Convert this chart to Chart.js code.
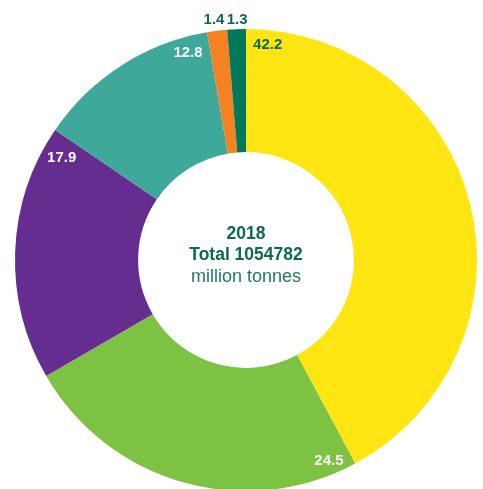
<!DOCTYPE html>
<html>
<head>
<meta charset="utf-8">
<script src="https://cdn.jsdelivr.net/npm/chart.js@4"></script>
<style>
  html, body { margin: 0; padding: 0; background: #fff; overflow: hidden; }
  canvas { display: block; }
</style>
</head>
<body>
<canvas id="donut" width="483" height="492"></canvas>
<script>
// share of each segment, percent, clockwise from 12 o'clock
const segments = ['A', 'B', 'C', 'D', 'E', 'F']
const shares = [42.2, 24.5, 17.9, 12.8, 1.4, 1.3]
const colours = ['#ffe512', '#7dc242', '#652d90', '#3ea89b', '#f58220', '#00785c']

const centreYear = '2018'
const centreTotal = 'Total 1054782'
const centreUnit = 'million tonnes'

// where each value label sits: fraction along the arc, offset from outer edge, colour
const labelStyle = [
  { along: 0.038, dr: -15, color: '#0b6a4d' },
  { along: 0.066, dr: -13.5, color: '#fff' },
  { along: 0.92, dr: -20, color: '#fff' },
  { along: 0.871, dr: -16, color: '#fff' },
  { along: 0.42, dr: 11, color: '#0b6a4d' },
  { along: 0.55, dr: 9, color: '#0b6a4d' }
]

const valueLabels = {
  id: 'valueLabels',
  afterDatasetsDraw(chart) {
    const ctx = chart.ctx
    const arcs = chart.getDatasetMeta(0).data
    ctx.save()
    ctx.font = 'bold 15px "Liberation Sans", Arial, sans-serif'
    ctx.textAlign = 'center'
    ctx.textBaseline = 'middle'
    arcs.forEach(function(arc, i) {
      const s = labelStyle[i]
      const a = arc.startAngle + (arc.endAngle - arc.startAngle) * s.along
      const r = arc.outerRadius + s.dr
      ctx.fillStyle = s.color
      ctx.fillText(shares[i].toFixed(1), arc.x + Math.cos(a) * r, arc.y + Math.sin(a) * r)
    })
    ctx.restore()
  }
}

const centreText = {
  id: 'centreText',
  afterDraw(chart) {
    const ctx = chart.ctx
    const arc = chart.getDatasetMeta(0).data[0]
    const x = arc.x, y = arc.y
    ctx.save()
    ctx.textAlign = 'center'
    ctx.textBaseline = 'middle'
    ctx.fillStyle = '#0b6a4d'
    ctx.font = 'bold 17.5px "Liberation Sans", Arial, sans-serif'
    ctx.fillText(centreYear, x, y - 26)
    ctx.fillText(centreTotal, x, y - 5)
    ctx.fillStyle = '#207a5e'
    ctx.font = '18px "Liberation Sans", Arial, sans-serif'
    ctx.fillText(centreUnit, x, y + 17)
    ctx.restore()
  }
}

new Chart(document.getElementById('donut'), {
  type: 'doughnut',
  data: {
    labels: segments,
    datasets: [{
      data: shares,
      backgroundColor: colours,
      borderWidth: 0
    }]
  },
  options: {
    responsive: false,
    animation: false,
    cutout: '46.7%',
    layout: { padding: { top: 29, bottom: 1, left: 15, right: 6 } },
    plugins: {
      legend: { display: false },
      tooltip: { enabled: false }
    }
  },
  plugins: [valueLabels, centreText]
})
</script>
</body>
</html>
